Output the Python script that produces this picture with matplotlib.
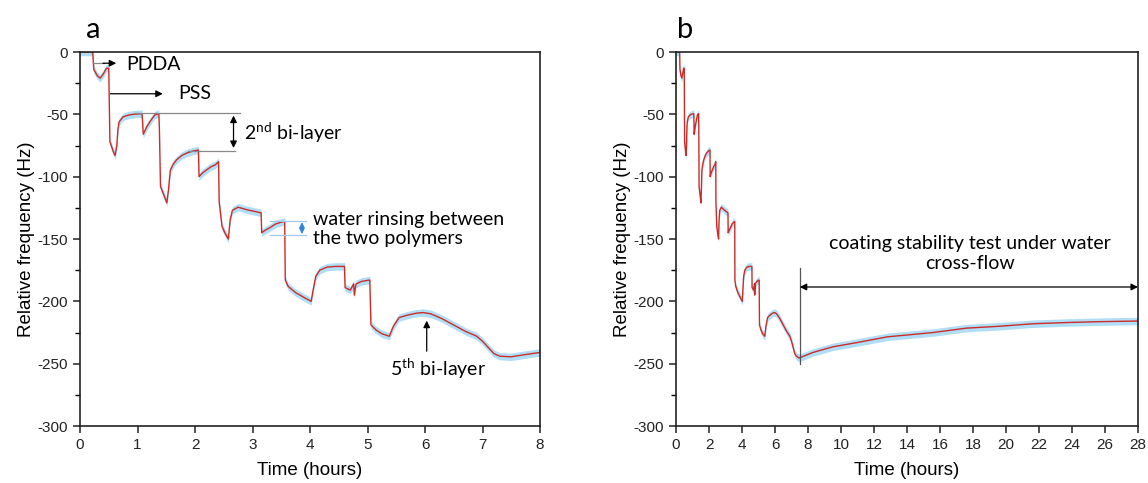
import matplotlib.pyplot as plt
from matplotlib.ticker import MultipleLocator

# QCM frequency shift during LbL deposition
t_a = [0, 0.22, 0.24, 0.30, 0.35, 0.40, 0.46, 0.50, 0.52, 0.58, 0.61, 0.64, 0.66,
       0.68, 0.75, 0.85, 0.96, 1.08, 1.10, 1.16, 1.23, 1.30, 1.37, 1.38, 1.40, 1.47,
       1.51, 1.54, 1.57, 1.62, 1.68, 1.77, 1.86, 1.96, 2.06, 2.07, 2.13, 2.20, 2.28,
       2.35, 2.41, 2.42, 2.47, 2.53, 2.58, 2.61, 2.65, 2.75, 2.90, 3.05, 3.15, 3.16,
       3.22, 3.30, 3.40, 3.50, 3.56, 3.57, 3.62, 3.75, 3.90, 4.02, 4.05, 4.10, 4.17,
       4.30, 4.45, 4.60, 4.61, 4.70, 4.76, 4.77, 4.80, 4.90, 5.02, 5.04, 5.06, 5.15,
       5.25, 5.38, 5.45, 5.55, 5.70, 5.85, 5.97, 6.10, 6.30, 6.50, 6.70, 6.90, 7.00,
       7.10, 7.20, 7.30, 7.50, 7.70, 8.00]
f_a = [0, 0, -14, -19, -21, -18, -13, -13, -72, -80, -83, -75, -62,
       -56, -52, -50.5, -49.8, -49.5, -66, -60, -55, -50.5, -49.5, -60, -108, -116,
       -121, -110, -95, -90, -86.5, -83, -81, -79.5, -78.6, -100, -97, -94.6, -92,
       -90.6, -88, -120, -140, -146, -150, -135, -127, -124.5, -126.5, -128, -129, -145,
       -143, -141, -138, -136.5, -136, -183, -188, -193, -197, -200, -192, -180, -175,
       -172.5, -172, -172, -189, -191, -186, -195, -186, -184, -183, -183, -219, -223,
       -226, -228, -220, -213, -211, -209.5, -209, -210, -214, -219, -224, -228, -232,
       -237, -242, -244, -244.5, -243, -241]

# long cross-flow stability run (panel b continues after 8 h)
t_b_tail = [8.3, 9.5, 11, 12.8, 15.6, 17.6, 19.6, 21.6, 23.7, 25.7, 28]
f_b_tail = [-241, -236.5, -233, -228.5, -225, -221.5, -220, -218, -217, -216.3, -215.8]

t_b = t_a[:-3] + [7.45] + t_b_tail
f_b = f_a[:-3] + [-245.5] + f_b_tail

band = 3.0  # half width of the light blue envelope (Hz)

red = '#cc2b27'
blue = '#b0def6'
ann_font = 'Lato'

plt.rcParams['font.family'] = ['Liberation Sans', 'DejaVu Sans']
plt.rcParams['axes.unicode_minus'] = False

fig = plt.figure(figsize=(11.48, 4.83), dpi=100)
ax1 = fig.add_axes([80 / 1148, 57 / 483, 460 / 1148, 374 / 483])
ax2 = fig.add_axes([676 / 1148, 57 / 483, 462 / 1148, 374 / 483])


def style(ax, xmax, xstep):
    ax.set_xlim(0, xmax)
    ax.set_ylim(-300, 0)
    ax.xaxis.set_major_locator(MultipleLocator(xstep))
    ax.yaxis.set_major_locator(MultipleLocator(50))
    ax.yaxis.set_minor_locator(MultipleLocator(25))
    ax.tick_params(which='major', direction='out', length=5, width=1.1, labelsize=11,
                   top=False, right=False, colors='#222222')
    ax.tick_params(which='minor', direction='out', length=3.5, width=1.0)
    for s in ax.spines.values():
        s.set_linewidth(1.2)
        s.set_color('#222222')
    ax.set_xlabel('Time (hours)', fontsize=13.5, labelpad=7)
    ax.set_ylabel('Relative frequency (Hz)', fontsize=13.5, labelpad=2)


def draw(ax, t, f):
    lo = [v - band for v in f]
    hi = [v + band for v in f]
    ax.fill_between(t, lo, hi, color=blue, lw=0, zorder=1)
    ax.plot(t, f, color=red, lw=1.0, zorder=2)


style(ax1, 8, 1)
style(ax2, 28, 2)
draw(ax1, t_a, f_a)
draw(ax2, t_b, f_b)

arr = dict(arrowstyle='-|>', color='black', lw=0.9, mutation_scale=10, shrinkA=0, shrinkB=0)
darr = dict(arrowstyle='<|-|>', color='black', lw=0.9, mutation_scale=10, shrinkA=0, shrinkB=0)

# panel a annotations
ax1.text(0.028, 1.06, 'a', transform=ax1.transAxes, fontsize=21, family=ann_font,
         ha='center', va='center')
ax1.plot([0.23, 0.42], [-9, -9], color='#888888', lw=0.9)
ax1.annotate('', xy=(0.63, -9), xytext=(0.40, -9), arrowprops=arr)
ax1.text(0.81, -10, 'PDDA', fontsize=14, family=ann_font, va='center')
ax1.annotate('', xy=(1.44, -33.5), xytext=(0.53, -33.5), arrowprops=arr)
ax1.text(1.71, -33.5, 'PSS', fontsize=14, family=ann_font, va='center')

ax1.plot([0.96, 2.78], [-48.6, -48.6], color='#888888', lw=0.9)
ax1.plot([1.88, 2.70], [-79.1, -79.1], color='#888888', lw=0.9)
ax1.annotate('', xy=(2.67, -77), xytext=(2.67, -51), arrowprops=darr)
ax1.text(2.85, -64.4, '2$^{\\mathregular{nd}}$ bi-layer', fontsize=14, family=ann_font,
         va='center')

ax1.plot([3.3, 3.93], [-135.5, -135.5], color='#9fc9e8', lw=0.9)
ax1.plot([3.3, 3.93], [-147, -147], color='#9fc9e8', lw=0.9)
ax1.annotate('', xy=(3.86, -146), xytext=(3.86, -136.5),
             arrowprops=dict(arrowstyle='<|-|>', color='#2f86d6', lw=0.8,
                             mutation_scale=8, shrinkA=0, shrinkB=0))
ax1.text(4.06, -142, 'water rinsing between\nthe two polymers', fontsize=14,
         family=ann_font, va='center', linespacing=1.2)

ax1.annotate('', xy=(6.03, -215.5), xytext=(6.03, -240), arrowprops=arr)
ax1.text(6.23, -254, '5$^{\\mathregular{th}}$ bi-layer', fontsize=14, family=ann_font,
         ha='center', va='center')

# panel b annotations
ax2.text(0.02, 1.06, 'b', transform=ax2.transAxes, fontsize=21, family=ann_font,
         ha='center', va='center')
ax2.plot([7.5, 7.5], [-173, -250], color='#555555', lw=0.9)
ax2.annotate('', xy=(28, -188.5), xytext=(7.5, -188.5), arrowprops=darr)
ax2.text(17.8, -161.5, 'coating stability test under water\ncross-flow', fontsize=14,
         family=ann_font, ha='center', va='center', linespacing=1.2)

fig.savefig('out.png', dpi=100)
